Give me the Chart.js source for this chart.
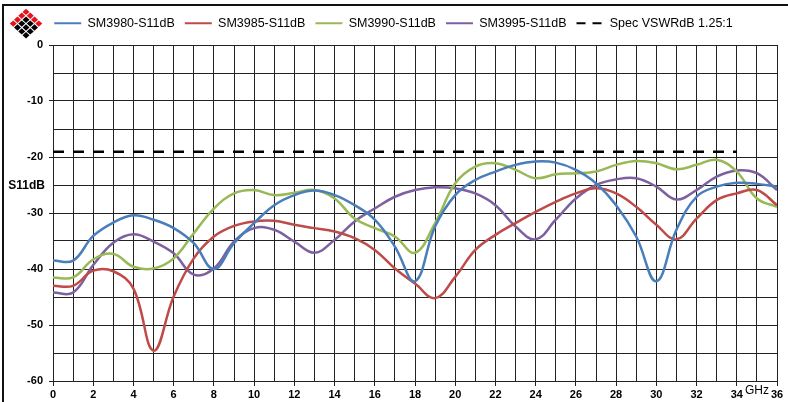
<!DOCTYPE html>
<html>
<head>
<meta charset="utf-8">
<script src="https://cdn.jsdelivr.net/npm/chart.js@4"></script>
<style>
  html, body { margin: 0; padding: 0; background: #fff; }
  #wrap { position: relative; width: 788px; height: 402px; }
</style>
</head>
<body>
<div id="wrap"><canvas id="s11Chart"></canvas></div>
<script>
// ========================
// DATA
// ========================
const freqGHz = [0, 1, 2, 3, 4, 5, 6, 7, 8, 9, 10, 11, 12, 13, 14, 15, 16, 17, 18,
  19, 20, 21, 22, 23, 24, 25, 26, 27, 28, 29, 30, 31, 32, 33, 34, 35, 36];

const sm3980 = [-38.5, -38.5, -34.1, -31.7, -30.4, -31.2, -32.7, -35.4, -40, -35.4,
  -31.8, -28.6, -26.8, -26, -26.8, -28.6, -31.2, -36, -42.2, -32.4, -26.8, -24.1,
  -22.6, -21.4, -20.8, -21, -22.3, -24.7, -28.6, -34.2, -42.2, -33, -27.1, -25.3,
  -24.6, -24.8, -25.3];

const sm3985 = [-43, -43, -40.3, -40.4, -43.5, -54.6, -44.9, -38.1, -34.2, -32.3,
  -31.5, -31.4, -32.1, -32.7, -33.3, -34.5, -36.6, -39.9, -42.6, -45.2, -41.4, -36.6,
  -33.9, -31.8, -29.8, -28, -26.5, -25.6, -26.5, -28.9, -32.1, -34.7, -31, -27.7,
  -26.5, -25.9, -28.6];

const sm3990 = [-41.5, -41.5, -38.3, -37.3, -39.6, -39.9, -38.1, -33.6, -29.2, -26.5,
  -25.9, -26.8, -26.4, -25.9, -27.4, -31, -32.7, -34.2, -37.1, -31.8, -24.7, -21.7,
  -21.1, -22.3, -23.8, -23.1, -22.9, -22.6, -21.4, -20.7, -21.1, -22.2, -21.4, -20.5,
  -22.6, -27.4, -28.9];

const sm3995 = [-44.2, -44.2, -39.3, -35.3, -33.8, -35.1, -37.2, -41, -39.9, -35.1,
  -32.7, -33, -35.1, -37.1, -34.8, -31.5, -29.2, -27.1, -25.9, -25.4, -25.6, -26.5,
  -28.6, -32.4, -34.7, -31.2, -27.4, -25, -24, -23.8, -25.3, -27.6, -25.9, -23.5,
  -22.4, -22.9, -25.9];

// VSWR 1.25:1 limit expressed as return loss
const specX = [0, 34];
const specVSWRdB = [-19.08, -19.08];

const seriesNames = ["SM3980-S11dB", "SM3985-S11dB", "SM3990-S11dB", "SM3995-S11dB",
  "Spec VSWRdB 1.25:1"];
const seriesColors = ["#4a7ebb", "#be4b48", "#98b954", "#7d60a0", "#000000"];

function toPoints(xs, ys) {
  return xs.map((x, i) => ({ x: x, y: ys[i] }));
}

// ========================
// DECORATION PLUGINS
// ========================
const frameAndLogo = {
  id: "frameAndLogo",
  beforeDraw(chart) {
    const ctx = chart.ctx;
    ctx.save();
    ctx.fillStyle = "#fff";
    ctx.fillRect(0, 0, chart.width, chart.height);

    // outer frame (top and left only)
    ctx.strokeStyle = "#111";
    ctx.lineWidth = 2;
    ctx.beginPath();
    ctx.moveTo(3, chart.height);
    ctx.lineTo(3, 5);
    ctx.lineTo(chart.width, 5);
    ctx.stroke();

    // diamond logo, 4x4 grid turned 45 degrees
    const cx = 26, top = 8, a = 4.25, b = 3.9, r = 3.5;
    for (let i = 0; i < 4; i++) {
      for (let j = 0; j < 4; j++) {
        const x = cx + (i - j) * a;
        const y = top + b + (i + j) * b;
        ctx.fillStyle = (i === 0 || j === 0) ? "#e3141b" : "#000";
        ctx.beginPath();
        ctx.moveTo(x, y - r * 0.92);
        ctx.lineTo(x + r, y);
        ctx.lineTo(x, y + r * 0.92);
        ctx.lineTo(x - r, y);
        ctx.closePath();
        ctx.fill();
      }
    }
    ctx.restore();
  },
  afterDraw(chart) {
    const ctx = chart.ctx;
    const yScale = chart.scales.y;
    ctx.save();
    ctx.fillStyle = "#000";
    ctx.textBaseline = "middle";
    ctx.font = "bold 12px 'Liberation Sans', Arial, sans-serif";
    ctx.textAlign = "right";
    ctx.fillText("S11dB", 45, yScale.getPixelForValue(-25) + 1);
    ctx.font = "12px 'Liberation Sans', Arial, sans-serif";
    ctx.textAlign = "left";
    ctx.fillText("GHz", 745, 391);
    ctx.restore();
  }
};

// extra room between legend row and plot
const legendGap = {
  id: "legendGap",
  beforeLayout(chart) {
    const legend = chart.legend;
    if (legend && !legend._gapPatched) {
      const fit = legend.fit;
      legend.fit = function () {
        fit.call(this);
        this.height += 5.5;
      };
      legend._gapPatched = true;
    }
  }
};

// ========================
// CHART
// ========================
const lineSets = [sm3980, sm3985, sm3990, sm3995].map((vals, i) => ({
  label: seriesNames[i],
  data: toPoints(freqGHz, vals),
  borderColor: seriesColors[i],
  backgroundColor: seriesColors[i],
  borderWidth: 2.5,
  pointRadius: 0,
  tension: 0.4,
  fill: false
}));

lineSets.push({
  label: seriesNames[4],
  data: toPoints(specX, specVSWRdB),
  borderColor: seriesColors[4],
  backgroundColor: seriesColors[4],
  borderWidth: 2.5,
  borderDash: [11, 9],
  pointRadius: 0,
  tension: 0,
  fill: false
});

Chart.defaults.font.family = "'Liberation Sans', Arial, sans-serif";
Chart.defaults.color = "#000";

const ctx = document.getElementById("s11Chart").getContext("2d");
window.s11Chart = new Chart(ctx, {
  type: "line",
  data: { datasets: lineSets },
  options: {
    responsive: true,
    maintainAspectRatio: false,
    animation: false,
    layout: { padding: { top: 7, right: 11, left: 10, bottom: 0 } },
    plugins: {
      tooltip: { enabled: false },
      legend: {
        position: "top",
        align: "center",
        labels: {
          usePointStyle: true,
          pointStyle: "line",
          pointStyleWidth: 27,
          padding: 10,
          color: "#000",
          font: { size: 12.5 },
          generateLabels(chart) {
            const items = Chart.defaults.plugins.legend.labels.generateLabels(chart);
            items.forEach(item => {
              const ds = chart.data.datasets[item.datasetIndex];
              item.strokeStyle = ds.borderColor;
              item.lineWidth = 2;
              item.lineDash = ds.borderDash ? [9, 7] : [];
            });
            return items;
          }
        }
      }
    },
    scales: {
      x: {
        type: "linear",
        min: 0,
        max: 36,
        afterFit(scale) { scale.height = 21; },
        ticks: {
          stepSize: 1,
          autoSkip: false,
          maxRotation: 0,
          padding: 2,
          color: "#000",
          font: { size: 11, weight: "bold" },
          callback: v => (v % 2 === 0 ? v : "")
        },
        grid: {
          color: "#222",
          lineWidth: 1,
          tickLength: 5,
          tickColor: c => (c.tick && c.tick.value % 2 === 0 ? "#222" : "rgba(0,0,0,0)")
        },
        border: { color: "#222", width: 1 }
      },
      y: {
        min: -60,
        max: 0,
        afterFit(scale) { scale.width = 43; },
        ticks: {
          stepSize: 5,
          padding: 6,
          color: "#000",
          font: { size: 11, weight: "bold" },
          callback: v => (v % 10 === 0 ? v : "")
        },
        grid: {
          color: "#222",
          lineWidth: 1,
          tickLength: 4,
          tickColor: c => (c.tick && c.tick.value % 10 === 0 ? "#222" : "rgba(0,0,0,0)")
        },
        border: { color: "#222", width: 1 }
      }
    }
  },
  plugins: [frameAndLogo, legendGap]
});
</script>
</body>
</html>
